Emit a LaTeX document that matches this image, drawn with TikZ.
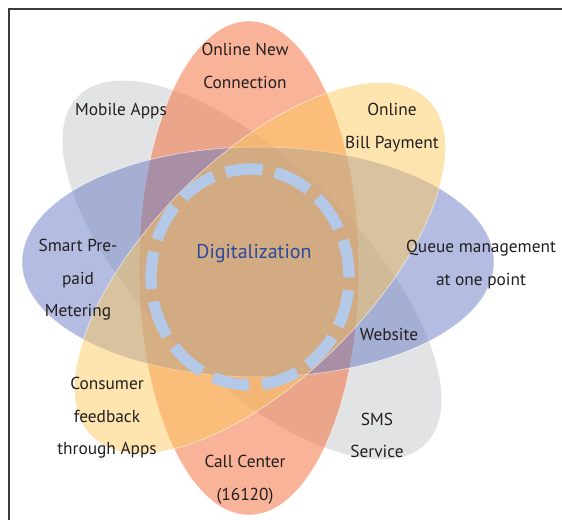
\documentclass[tikz,border=0pt]{standalone}
\usepackage{fontspec}
\setmainfont{PT Sans}
\usetikzlibrary{positioning}
\definecolor{petalgrey}{RGB}{197,199,203}
\definecolor{petalorange}{RGB}{243,103,49}
\definecolor{petalblue}{RGB}{105,121,195}
\definecolor{petalyellow}{RGB}{253,201,95}
\definecolor{ringblue}{RGB}{180,200,232}
\definecolor{labeltext}{RGB}{35,31,32}
\definecolor{coretext}{RGB}{42,74,160}
\definecolor{framegrey}{RGB}{60,60,60}

\begin{document}
\begin{tikzpicture}[x=0.75pt,y=0.75pt,
  petal/.style={draw=white,draw opacity=0.7,line width=0.4pt,fill opacity=0.5},
  lbl/.style={font=\fontsize{13}{24.4}\selectfont,text=labeltext,align=center,inner sep=0pt}]
\useasboundingbox (0,0) rectangle (562,520);
\draw[framegrey,line width=1pt] (562,511) -- (9,511) -- (9,0);

\draw[petal,fill=petalgrey] (252,250) ellipse [x radius=184.5pt,y radius=80.25pt,rotate=-45];
\draw[petal,fill=petalorange] (249,252) ellipse [x radius=82.5pt,y radius=185.25pt];
\draw[petal,fill=petalblue] (258,258) ellipse [x radius=177pt,y radius=86.25pt];
\draw[petal,fill=petalyellow] (260,252) ellipse [x radius=178.5pt,y radius=82.5pt,rotate=45];

\draw[ringblue,line width=8.5pt,dash pattern=on 28pt off 9.5pt] (250,243) ellipse [x radius=74.25pt,y radius=81pt];

\node[font=\fontsize{15}{17}\selectfont,text=coretext,inner sep=0pt] (digital) at (254,266) {Digitalization};

\node[lbl] (newconn) at (245,454) {Online New\\Connection};
\node[lbl] (mobile) at (121,409) {Mobile Apps};
\node[lbl] (billpay) at (392,392.5) {Online\\Bill Payment};
\node[lbl] (prepaid) at (78,240) {Smart Pre-\\paid\\Metering};
\node[lbl] (queue) at (481,255.5) {Queue management\\at one point};
\node[lbl] (website) at (389,186) {Website};
\node[lbl] (feedback) at (107,102) {Consumer\\feedback\\through Apps};
\node[lbl] (sms) at (377,84.5) {SMS\\Service};
\node[lbl] (callcenter) at (245,40) {Call Center\\(16120)};

\end{tikzpicture}
\end{document}
